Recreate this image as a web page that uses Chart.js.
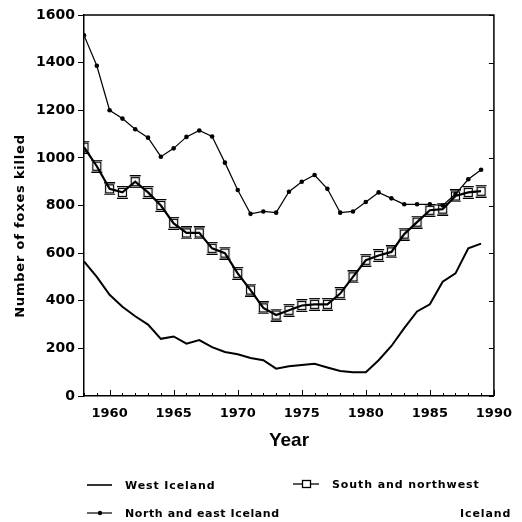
<!DOCTYPE html>
<html>
<head>
<meta charset="utf-8">
<script src="https://cdn.jsdelivr.net/npm/chart.js@4"></script>
<style>
    html, body { margin: 0; padding: 0; background: #fff; }
    #wrap { width: 522px; height: 522px; }
</style>
</head>
<body>
<div id="wrap"><canvas id="foxChart" width="522" height="522"></canvas></div>
<script>
const years = [1958, 1959, 1960, 1961, 1962, 1963, 1964, 1965, 1966, 1967, 1968,
    1969, 1970, 1971, 1972, 1973, 1974, 1975, 1976, 1977, 1978, 1979, 1980,
    1981, 1982, 1983, 1984, 1985, 1986, 1987, 1988, 1989];

const westIceland = [565, 500, 425, 375, 335, 300, 240, 250, 220, 235, 205,
    185, 175, 160, 150, 115, 125, 130, 135, 120, 105, 100, 100,
    150, 210, 285, 355, 385, 480, 515, 620, 640];

const southNorthwest = [1045, 965, 870, 855, 900, 855, 800, 725, 685, 685, 620,
    600, 515, 445, 370, 340, 360, 380, 385, 385, 430, 500, 570,
    590, 605, 680, 730, 780, 785, 840, 855, 860];

const northEast = [1515, 1387, 1200, 1165, 1120, 1085, 1005, 1040, 1088, 1115, 1090,
    980, 865, 765, 775, 770, 858, 900, 928, 870, 770, 775, 815,
    855, 830, 805, 805, 805, 800, 848, 910, 950];

const xTickYears = [1960, 1965, 1970, 1975, 1980, 1985, 1990];
const yTickValues = [0, 200, 400, 600, 800, 1000, 1200, 1400, 1600];

const INK = '#000';
const TICK_FONT = { family: 'DejaVu Sans', size: 14, weight: 'bold' };

// open square with short bars above and below, used for the south series
function squareMarker() {
    const c = document.createElement('canvas');
    c.width = 13; c.height = 13;
    const g = c.getContext('2d');
    g.strokeStyle = INK;
    g.lineWidth = 1.2;
    g.strokeRect(2.5, 2.5, 8, 8);
    g.beginPath();
    g.moveTo(1, 0.6); g.lineTo(12, 0.6);
    g.moveTo(1, 12.4); g.lineTo(12, 12.4);
    g.stroke();
    return c;
}

const frameAndLegend = {
    id: 'frameAndLegend',
    afterDraw(chart) {
        const { ctx, chartArea: a, scales } = chart;
        ctx.save();
        ctx.strokeStyle = INK;
        ctx.fillStyle = INK;

        // top and right border
        ctx.lineWidth = 1.5;
        ctx.beginPath();
        ctx.moveTo(a.left, a.top);
        ctx.lineTo(a.right, a.top);
        ctx.lineTo(a.right, a.bottom);
        ctx.stroke();

        // inward year ticks on the bottom axis
        ctx.lineWidth = 1;
        ctx.beginPath();
        for (let y = 1958; y <= 1990; y++) {
            const px = Math.round(scales.x.getPixelForValue(y)) + 0.5;
            const len = y % 5 === 0 ? 6 : 3;
            ctx.moveTo(px, a.bottom);
            ctx.lineTo(px, a.bottom - len);
        }
        // inward ticks on the right border
        yTickValues.forEach(v => {
            const py = Math.round(scales.y.getPixelForValue(v)) + 0.5;
            ctx.moveTo(a.right, py);
            ctx.lineTo(a.right - 5, py);
        });
        ctx.stroke();

        // axis titles
        ctx.textAlign = 'center';
        ctx.textBaseline = 'middle';
        ctx.font = 'bold 19px "Liberation Sans"';
        ctx.fillText('Year', (a.left + a.right) / 2, 441);

        ctx.save();
        ctx.translate(21, 226);
        ctx.rotate(-Math.PI / 2);
        ctx.font = 'bold 13px "DejaVu Sans"';
        ctx.letterSpacing = '0.8px';
        ctx.fillText('Number of foxes killed', 0, 0);
        ctx.restore();

        // legend
        ctx.font = 'bold 11px "DejaVu Sans"';
        ctx.letterSpacing = '0.9px';
        ctx.textAlign = 'left';

        ctx.lineWidth = 1.6;
        ctx.beginPath();
        ctx.moveTo(87, 485); ctx.lineTo(112, 485);
        ctx.stroke();
        ctx.fillText('West Iceland', 125, 486);

        ctx.lineWidth = 1.2;
        ctx.beginPath();
        ctx.moveTo(87, 513); ctx.lineTo(112, 513);
        ctx.stroke();
        ctx.beginPath();
        ctx.arc(100, 513, 2.2, 0, Math.PI * 2);
        ctx.fill();
        ctx.letterSpacing = '0.6px';
        ctx.fillText('North and east Iceland', 125, 514);
        ctx.letterSpacing = '0.9px';

        ctx.lineWidth = 1.3;
        ctx.beginPath();
        ctx.moveTo(293, 484); ctx.lineTo(319, 484);
        ctx.stroke();
        ctx.fillStyle = '#fff';
        ctx.fillRect(302, 480, 8, 8);
        ctx.strokeRect(302.5, 480.5, 8, 7);
        ctx.fillStyle = INK;
        ctx.fillText('South and northwest', 332, 485);
        ctx.fillText('Iceland', 460, 514);

        ctx.restore();
    }
};

new Chart('foxChart', {
    type: 'line',
    data: {
        datasets: [
            {
                label: 'West Iceland',
                data: years.map((y, i) => ({ x: y, y: westIceland[i] })),
                borderColor: INK,
                borderWidth: 2,
                pointRadius: 0,
                tension: 0
            },
            {
                label: 'South and northwest Iceland',
                data: years.map((y, i) => ({ x: y, y: southNorthwest[i] })),
                borderColor: INK,
                borderWidth: 2.2,
                pointStyle: squareMarker(),
                pointRadius: 6,
                tension: 0
            },
            {
                label: 'North and east Iceland',
                data: years.map((y, i) => ({ x: y, y: northEast[i] })),
                borderColor: INK,
                backgroundColor: INK,
                borderWidth: 1.2,
                pointRadius: 2.3,
                pointBorderWidth: 0,
                tension: 0
            }
        ]
    },
    options: {
        responsive: false,
        animation: false,
        layout: { padding: { left: 0, right: 25, top: 15, bottom: 0 } },
        plugins: { legend: { display: false }, tooltip: { enabled: false } },
        scales: {
            x: {
                type: 'linear',
                min: 1958,
                max: 1990,
                afterBuildTicks: s => { s.ticks = xTickYears.map(v => ({ value: v })); },
                afterFit: s => { s.height = 126; },
                grid: { display: true, drawOnChartArea: false, drawTicks: false },
                border: { display: true, color: INK, width: 1.5 },
                ticks: { color: INK, font: { family: 'DejaVu Sans', size: 13, weight: 'bold' },
                    padding: 10, maxRotation: 0, autoSkip: false, callback: v => String(v) }
            },
            y: {
                min: 0,
                max: 1600,
                afterBuildTicks: s => { s.ticks = yTickValues.map(v => ({ value: v })); },
                afterFit: s => { s.width = 84; },
                grid: { display: true, drawOnChartArea: false, drawTicks: true, tickLength: 6, color: INK },
                border: { display: true, color: INK, width: 1.5 },
                ticks: { color: INK, font: TICK_FONT, padding: 3, callback: v => String(v) }
            }
        }
    },
    plugins: [frameAndLegend]
});
</script>
</body>
</html>
